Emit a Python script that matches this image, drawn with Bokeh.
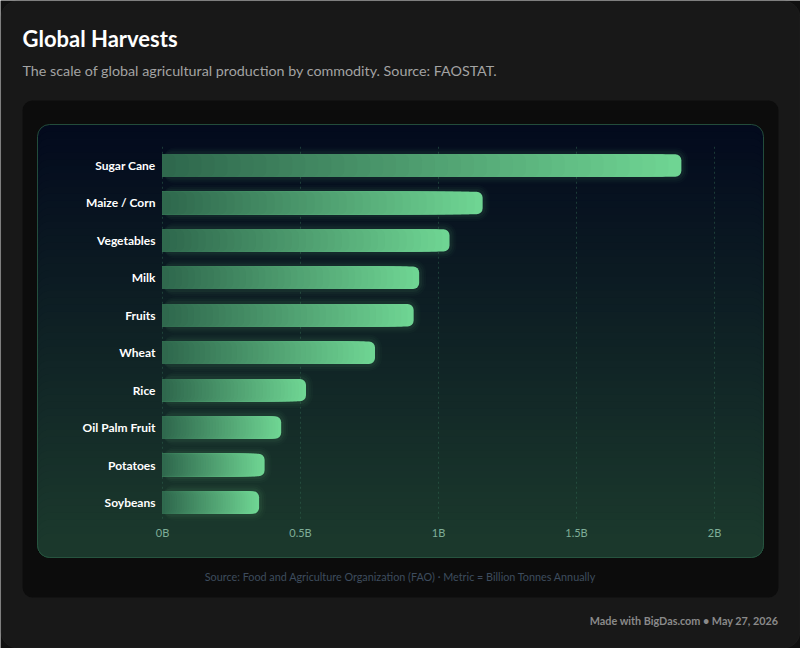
from bokeh.plotting import figure
from bokeh.models import Range1d, BoxAnnotation, Label
from bokeh.core.properties import value
from bokeh.embed import file_html
from bokeh.resources import INLINE

# ---- data ----
categories = ["Sugar Cane", "Maize / Corn", "Vegetables", "Milk", "Fruits",
              "Wheat", "Rice", "Oil Palm Fruit", "Potatoes", "Soybeans"]
production_bn_t = [1.88, 1.16, 1.04, 0.93, 0.91, 0.77, 0.52, 0.43, 0.37, 0.35]
tick_values = [0, 0.5, 1, 1.5, 2]
tick_labels = ["0B", "0.5B", "1B", "1.5B", "2B"]

W, H = 800, 648
X0PX, PX_PER_UNIT = 162, 276.0              # value axis placement
ROW0PX, ROW_PX = 165, 37.44                 # category rows

def px2x(px):
    return (px - X0PX) / PX_PER_UNIT

def px2y(py):
    return (py - ROW0PX) / ROW_PX

FONT = "Lato"

p = figure(width=W, height=H, output_backend="svg", toolbar_location=None,
           x_axis_location=None, y_axis_location=None,
           x_range=Range1d(px2x(0), px2x(W)),
           y_range=Range1d(px2y(H), px2y(0)),
           min_border=0, min_border_left=0, min_border_right=0,
           min_border_top=0, min_border_bottom=0)
p.border_fill_color = "#101010"
p.background_fill_color = "#101010"
p.outline_line_color = None
p.xgrid.visible = False
p.ygrid.visible = False

def hex2rgb(h):
    h = h.lstrip("#")
    return tuple(int(h[i:i + 2], 16) for i in (0, 2, 4))

def lerp(c1, c2, t):
    a, b = hex2rgb(c1), hex2rgb(c2)
    return "#%02x%02x%02x" % tuple(round(a[i] + (b[i] - a[i]) * t) for i in range(3))

def box(l, r, t, b, **kw):
    p.add_layout(BoxAnnotation(left=px2x(l), right=px2x(r), top=px2y(t), bottom=px2y(b),
                               level="underlay", editable=False, **kw))

# page card
box(0.5, W - 0.5, 0.5, H - 0.5, fill_color="#181818", fill_alpha=1,
    line_color="#2c2c2c", line_width=1, border_radius=16)
# inner dark panel
box(22, 778, 100, 597, fill_color="#0c0c0c", fill_alpha=1, line_color=None, border_radius=10)

# ---- chart card with vertical gradient ----
CL, CR, CT, CB = 37, 763, 124, 557
RAD = 12
NSTRIP = 60
span = (CB - 2 * RAD) - CT
for k in range(NSTRIP):
    top_px = CT + span * k / (NSTRIP - 1)
    t = (top_px - CT) / (CB - CT)
    box(CL, CR, top_px, CB, fill_color=lerp("#030a1d", "#1c3b2d", t), fill_alpha=1,
        line_color=None, border_radius=RAD)
box(CL, CR, CT, CB, fill_alpha=0, line_color="#2b5c45", line_alpha=0.8,
    line_width=1, border_radius=RAD)

# ---- grid lines ----
p.segment(x0=tick_values, x1=tick_values, y0=[-0.5] * len(tick_values),
          y1=[len(categories) - 0.5] * len(tick_values),
          line_color="#2f6650", line_alpha=0.5, line_width=1, line_dash="2 3")

# ---- bars: glow + horizontal gradient per bar ----
ys = list(range(len(categories)))
BAR_H = 0.6
for e, a in [(7, 0.025), (5, 0.035), (3, 0.05)]:
    p.hbar(y=ys, left=0, right=[v + e / PX_PER_UNIT for v in production_bn_t],
           height=BAR_H + 2 * e / ROW_PX, fill_color="#6cd191", fill_alpha=a,
           line_color=None, border_radius=6 + e)

NLAYER = 40
for k in range(NLAYER):
    f = 1 - k / NLAYER
    p.hbar(y=ys, left=0, right=[v * f for v in production_bn_t], height=BAR_H,
           fill_color=lerp("#6fd593", "#2d654b", k / NLAYER), line_color=None,
           border_radius=(0, 6, 6, 0))

# ---- category labels ----
p.text(x=[px2x(155)] * len(categories), y=ys, text=categories,
       text_align="right", text_baseline="middle", text_color="#ffffff",
       text_font=value(FONT), text_font_size="12px", text_font_style="bold")

# ---- value tick labels ----
p.text(x=tick_values, y=[px2y(532)] * len(tick_values), text=tick_labels,
       text_align="center", text_baseline="middle", text_color="#7fae98",
       text_font=value(FONT), text_font_size="11px")

# ---- texts ----
p.add_layout(Label(x=px2x(400), y=px2y(576), text="Source: Food and Agriculture Organization (FAO) \u00b7 Metric = Billion Tonnes Annually",
                   text_align="center", text_baseline="middle", text_color="#3e4c5e",
                   text_font=FONT, text_font_size="10.8px"))
p.add_layout(Label(x=px2x(22), y=px2y(38), text="Global Harvests",
                   text_align="left", text_baseline="middle", text_color="#ffffff",
                   text_font=FONT, text_font_size="22px", text_font_style="bold"))
p.add_layout(Label(x=px2x(22), y=px2y(70), text="The scale of global agricultural production by commodity. Source: FAOSTAT.",
                   text_align="left", text_baseline="middle", text_color="#a3a3a3",
                   text_font=FONT, text_font_size="14.3px"))
p.add_layout(Label(x=px2x(778), y=px2y(620), text="Made with BigDas.com \u2022 May 27, 2026",
                   text_align="right", text_baseline="middle", text_color="#8a8a8a",
                   text_font=FONT, text_font_size="10.8px", text_font_style="bold"))

open("out.html", "w").write(file_html(p, INLINE))
